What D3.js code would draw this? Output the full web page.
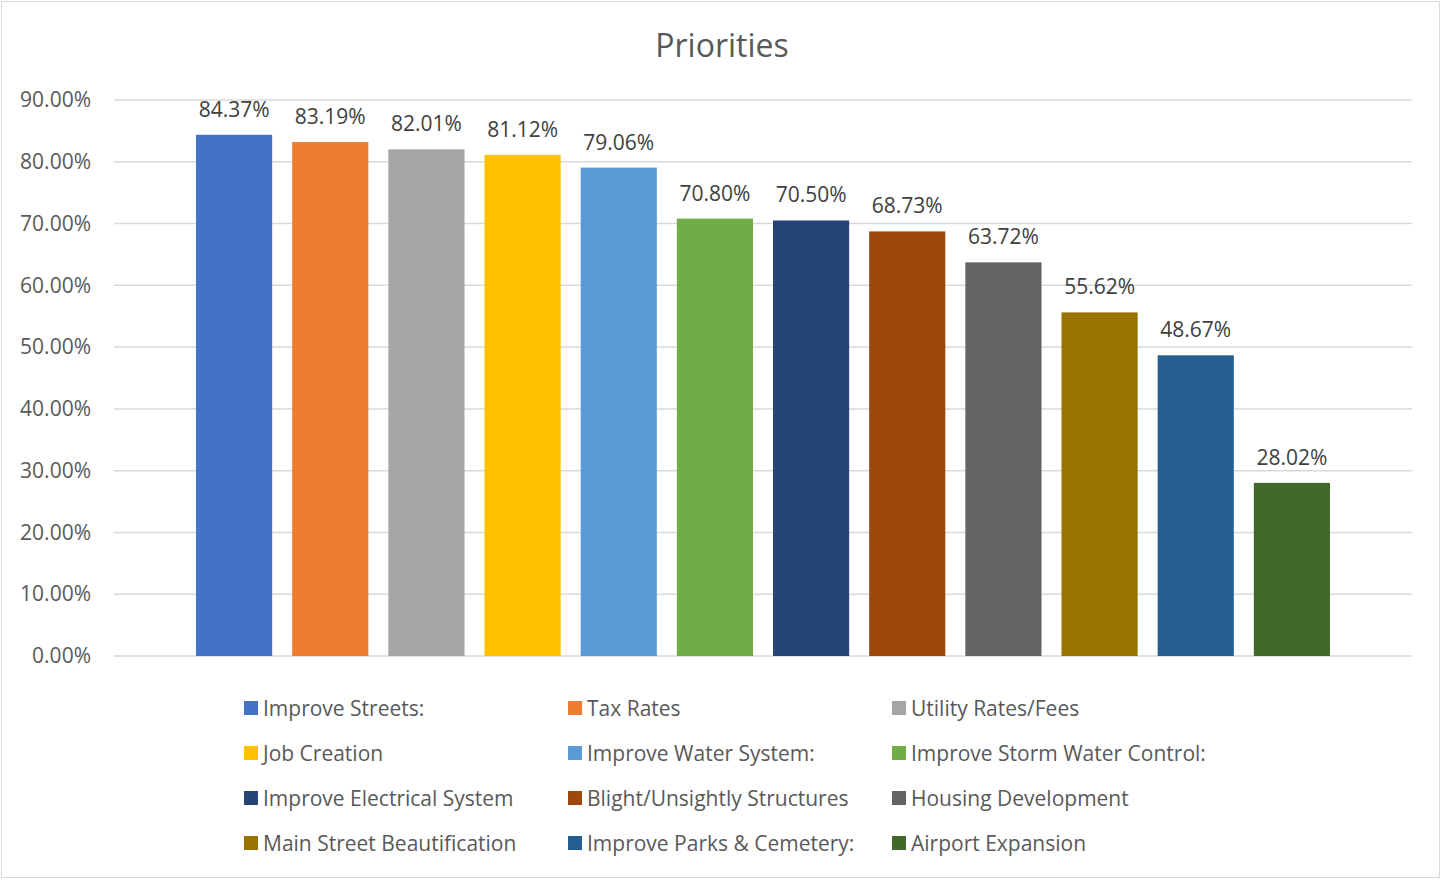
<!DOCTYPE html>
<html>
<head>
<meta charset="utf-8">
<script src="https://cdn.jsdelivr.net/npm/d3@7"></script>
<style>
  html, body { margin: 0; padding: 0; background: #fff; }
  svg { display: block; font-family: "Open Sans", "Noto Sans", sans-serif; }
</style>
</head>
<body>
<svg id="chart" width="1442" height="880"></svg>
<script>
// Survey priorities: share of respondents rating each item as a priority
const categories = [
  "Improve Streets:", "Tax Rates", "Utility Rates/Fees", "Job Creation",
  "Improve Water System:", "Improve Storm Water Control:", "Improve Electrical System",
  "Blight/Unsightly Structures", "Housing Development", "Main Street Beautification",
  "Improve Parks & Cemetery:", "Airport Expansion"
];
const values = [84.37, 83.19, 82.01, 81.12, 79.06, 70.80, 70.50, 68.73, 63.72, 55.62, 48.67, 28.02];
const colors = [
  "#4472C4", "#ED7D31", "#A5A5A5", "#FFC000", "#5B9BD5", "#70AD47",
  "#264478", "#9E480E", "#636363", "#997300", "#255E91", "#43682B"
];
const yTicks = [0, 10, 20, 30, 40, 50, 60, 70, 80, 90];

const svg = d3.select("#chart");
const W = 1442, H = 880;

// outer frame
svg.append("rect")
  .attr("x", 1.5).attr("y", 1.5)
  .attr("width", W - 4).attr("height", H - 4)
  .attr("fill", "#fff").attr("stroke", "#d9d9d9").attr("stroke-width", 1);

// title
svg.append("text")
  .attr("x", 722).attr("y", 57)
  .attr("text-anchor", "middle")
  .attr("font-size", 32).attr("fill", "#595959")
  .text("Priorities");

const plotLeft = 114, plotRight = 1412;
const y = d3.scaleLinear().domain([0, 90]).range([656, 100]);
const x = d3.scaleBand()
  .domain(categories)
  .range([186, 1340])
  .paddingInner(0.208)
  .paddingOuter(0.104);

// gridlines
svg.append("g")
  .selectAll("line")
  .data(yTicks)
  .join("line")
  .attr("x1", plotLeft).attr("x2", plotRight)
  .attr("y1", d => y(d)).attr("y2", d => y(d))
  .attr("stroke", "#d9d9d9").attr("stroke-width", 1.5);

// y axis labels
const yAxis = d3.axisLeft(y)
  .tickValues(yTicks)
  .tickFormat(d => d.toFixed(2) + "%")
  .tickSize(0)
  .tickPadding(0);
const gy = svg.append("g")
  .attr("transform", "translate(91,0)")
  .call(yAxis);
gy.select(".domain").remove();
gy.selectAll("text")
  .attr("font-size", 21)
  .attr("fill", "#595959")
  .attr("font-family", "\"Open Sans\", \"Noto Sans\", sans-serif");

// bars
svg.append("g")
  .selectAll("rect")
  .data(values)
  .join("rect")
  .attr("x", (d, i) => x(categories[i]))
  .attr("width", x.bandwidth())
  .attr("y", d => y(d))
  .attr("height", d => y(0) - y(d))
  .attr("fill", (d, i) => colors[i]);

// data labels
svg.append("g")
  .selectAll("text")
  .data(values)
  .join("text")
  .attr("x", (d, i) => x(categories[i]) + x.bandwidth() / 2)
  .attr("y", d => y(d) - 18)
  .attr("text-anchor", "middle")
  .attr("font-size", 21)
  .attr("fill", "#404040")
  .text(d => d.toFixed(2) + "%");

// legend: three columns, four rows
const legCols = [244, 568, 892];
const legRows = [708, 753, 798, 843];
const leg = svg.append("g")
  .selectAll("g")
  .data(categories)
  .join("g")
  .attr("transform", (d, i) => `translate(${legCols[i % 3]},${legRows[Math.floor(i / 3)]})`);
leg.append("rect")
  .attr("x", 0).attr("y", -7)
  .attr("width", 14).attr("height", 14)
  .attr("fill", (d, i) => colors[i]);
leg.append("text")
  .attr("x", 19).attr("y", 7.5)
  .attr("font-size", 21)
  .attr("fill", "#595959")
  .text(d => d);
</script>
</body>
</html>
